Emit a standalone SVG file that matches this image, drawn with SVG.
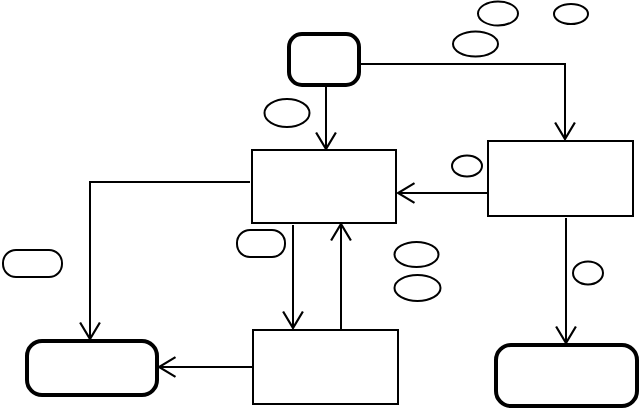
<svg xmlns="http://www.w3.org/2000/svg" width="640" height="408" viewBox="0 0 640 408">
<style>
.box{fill:#fff;stroke:#000;stroke-width:2}
.term{fill:#fff;stroke:#000;stroke-width:4}
.lbl{fill:#fff;stroke:#000;stroke-width:2}
.edge{fill:none;stroke:#000;stroke-width:2}
</style>
<defs>
<marker id="arr" markerUnits="userSpaceOnUse" markerWidth="20" markerHeight="22" viewBox="-16 -10 18 20" refX="0" refY="0" orient="auto">
<path d="M-15,-9 L0,0 L-15,9" fill="none" stroke="#000" stroke-width="2"/>
</marker>
</defs>
<rect width="640" height="408" fill="#fff"/>
<g id="edges">
<path class="edge" d="M360,64 H565 V139" marker-end="url(#arr)"/>
<path class="edge" d="M326,86 V149" marker-end="url(#arr)"/>
<path class="edge" d="M488,193 H398" marker-end="url(#arr)"/>
<path class="edge" d="M250,182 H90 V339" marker-end="url(#arr)"/>
<path class="edge" d="M293,225 V328" marker-end="url(#arr)"/>
<path class="edge" d="M341,329 V224" marker-end="url(#arr)"/>
<path class="edge" d="M253,367 H159" marker-end="url(#arr)"/>
<path class="edge" d="M566,218 V343" marker-end="url(#arr)"/>
</g>
<g id="start"><rect class="term" x="289" y="34" width="70" height="51" rx="13" stroke-width="3"/></g>
<g id="boxA"><rect class="box" x="252" y="150" width="144" height="73"/></g>
<g id="boxB"><rect class="box" x="488" y="141" width="145" height="75"/></g>
<g id="boxC"><rect class="box" x="253" y="330" width="145" height="74"/></g>
<g id="endLeft"><rect class="term" x="27" y="341" width="130" height="54" rx="15"/></g>
<g id="endRight"><rect class="term" x="496" y="345" width="141" height="61" rx="15"/></g>
<g id="labels">
<ellipse class="lbl" cx="498" cy="13.5" rx="20" ry="12"/>
<ellipse class="lbl" cx="571" cy="14" rx="17" ry="10"/>
<ellipse class="lbl" cx="475.5" cy="44" rx="22.5" ry="12.5"/>
<ellipse class="lbl" cx="287" cy="113" rx="22.5" ry="14"/>
<ellipse class="lbl" cx="467" cy="166" rx="15" ry="10.5"/>
<rect class="lbl" x="3" y="250" width="59" height="27" rx="13"/>
<rect class="lbl" x="237" y="230" width="48" height="27" rx="13"/>
<ellipse class="lbl" cx="416.5" cy="254.5" rx="22" ry="12.5"/>
<ellipse class="lbl" cx="417.5" cy="288" rx="23" ry="13"/>
<ellipse class="lbl" cx="588" cy="273" rx="15" ry="11.5"/>
</g>
</svg>
